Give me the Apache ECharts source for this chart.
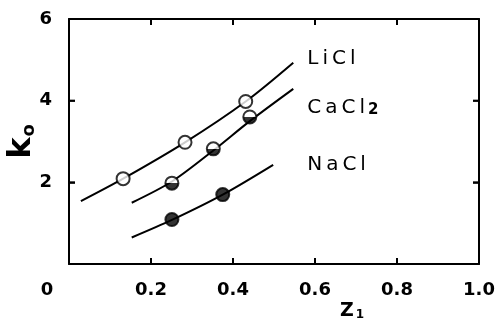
<!DOCTYPE html>
<html>
<head>
<meta charset="utf-8">
<script src="https://cdn.jsdelivr.net/npm/echarts@6/dist/echarts.min.js"></script>
<style>
  html, body { margin: 0; padding: 0; background: #fff; }
  #chart { width: 498px; height: 326px; }
</style>
</head>
<body>
<div id="chart"></div>
<script>
// tick labels and inner tick positions
const xTickLabels = ['0', '0.2', '0.4', '0.6', '0.8', '1.0']
const yTickLabels = ['', '2', '4', '6']
const xInnerTicks = [0.2, 0.4, 0.6, 0.8]
const yInnerTicks = [2, 4]

// measured points
const liclX = [0.132, 0.283, 0.431]
const liclY = [2.09, 2.98, 3.98]
const caclX = [0.251, 0.352, 0.441]
const caclY = [1.98, 2.82, 3.6]
const naclX = [0.251, 0.375]
const naclY = [1.09, 1.70]

// fitted curves
const liclCurveX = [0.029, 0.132, 0.283, 0.431, 0.547]
const liclCurveY = [1.54, 2.09, 2.98, 3.98, 4.93]
const caclCurveX = [0.153, 0.251, 0.352, 0.441, 0.547]
const caclCurveY = [1.50, 2.02, 2.78, 3.50, 4.29]
const naclCurveX = [0.153, 0.251, 0.375, 0.498]
const naclCurveY = [0.65, 1.08, 1.70, 2.43]

const zip = (xs, ys) => xs.map((x, i) => [x, ys[i]])

const FONT = 'DejaVu Sans'
const TICK = 6
const chart = echarts.init(document.getElementById('chart'))

const halfFill = new echarts.graphic.LinearGradient(0, 0, 0, 1, [
  { offset: 0, color: '#fff' },
  { offset: 0.5, color: '#fff' },
  { offset: 0.5, color: '#000' },
  { offset: 1, color: '#000' }
])

// spread letters out a bit, like the original lettering
const spaced = (txt) => txt.split('').map(c => '{a|' + c + '}').join('')

const curve = (name, xs, ys, label, distance, offset) => ({
  name,
  type: 'line',
  data: zip(xs, ys),
  smooth: 0.3,
  symbol: 'none',
  lineStyle: { color: '#000', width: 2 },
  endLabel: {
    show: true,
    formatter: label,
    distance,
    offset,
    fontFamily: FONT,
    fontSize: 20,
    color: '#000',
    rich: {
      a: { fontFamily: FONT, fontSize: 20, color: '#000', padding: [0, 2, 0, 2] },
      s: { fontFamily: FONT, fontSize: 15, fontWeight: 'bold', color: '#000', verticalAlign: 'bottom', padding: [0, 0, 0, 1] }
    }
  },
  z: 2
})

const dots = (name, xs, ys, fill) => ({
  name,
  type: 'scatter',
  data: zip(xs, ys),
  symbol: 'circle',
  symbolSize: 13,
  itemStyle: { color: fill, borderColor: '#000', borderWidth: 2 },
  z: 3
})

// inward tick marks on the frame, placed through the axis scales
const innerTicks = (side, vals) => ({
  name: 'ticks-' + side,
  type: 'custom',
  coordinateSystem: 'cartesian2d',
  xAxisIndex: 0,
  yAxisIndex: 0,
  silent: true,
  clip: false,
  encode: { x: 0, y: 1 },
  data: vals.map(v => side === 'bottom' || side === 'top' ? [v, 3] : [0.5, v]),
  renderItem: (params, api) => {
    const xv = api.value(0)
    const yv = api.value(1)
    let p, q
    if (side === 'bottom') { p = api.coord([xv, 0]); q = [p[0], p[1] - TICK] }
    if (side === 'top') { p = api.coord([xv, 6]); q = [p[0], p[1] + TICK] }
    if (side === 'left') { p = api.coord([0, yv]); q = [p[0] + TICK, p[1]] }
    if (side === 'right') { p = api.coord([1, yv]); q = [p[0] - TICK, p[1]] }
    return {
      type: 'line',
      shape: { x1: p[0], y1: p[1], x2: q[0], y2: q[1] },
      style: { stroke: '#000', lineWidth: 2 }
    }
  },
  z: 10
})

const frameLine = { show: true, onZero: false, lineStyle: { color: '#000', width: 2 } }
const frameTick = { show: true, inside: true, length: TICK, lineStyle: { color: '#000', width: 1.5 } }

const option = {
  animation: false,
  backgroundColor: '#fff',
  grid: { left: 69, right: 19, top: 19, bottom: 62, outerBoundsMode: 'none' },
  xAxis: [
    {
      type: 'value',
      min: 0,
      max: 1,
      interval: 0.2,
      name: 'Z{s|1}',
      nameLocation: 'middle',
      nameGap: 37,
      nameMoveOverlap: false,
      nameTextStyle: {
        fontFamily: FONT,
        fontSize: 19,
        fontWeight: 'bold',
        color: '#000',
        padding: [0, 0, 0, 156],
        rich: {
          s: { fontFamily: FONT, fontSize: 12, fontWeight: 'bold', color: '#000', padding: [8, 0, 0, 2] }
        }
      },
      axisLine: frameLine,
      axisTick: frameTick,
      splitLine: { show: false },
      axisLabel: {
        margin: 17,
        fontFamily: FONT,
        fontSize: 18,
        fontWeight: 'bold',
        color: '#000',
        formatter: (v) => {
          const i = Math.round(v / 0.2)
          return i === 0 ? '{z|' + xTickLabels[0] + '}' : xTickLabels[i]
        },
        rich: {
          z: { fontFamily: FONT, fontSize: 18, fontWeight: 'bold', color: '#000', padding: [0, 44, 0, 0] }
        }
      }
    },
    {
      type: 'value',
      position: 'top',
      min: 0,
      max: 1,
      interval: 0.2,
      axisLine: frameLine,
      axisTick: frameTick,
      axisLabel: { show: false },
      splitLine: { show: false }
    }
  ],
  yAxis: [
    {
      type: 'value',
      min: 0,
      max: 6,
      interval: 2,
      name: '{k|k}{o|o}',
      nameLocation: 'middle',
      nameRotate: 90,
      nameGap: 31,
      nameMoveOverlap: false,
      nameTextStyle: {
        rich: {
          k: { fontFamily: FONT, fontSize: 32, fontWeight: 'bold', color: '#000' },
          o: { fontFamily: FONT, fontSize: 18, fontWeight: 'bold', color: '#000', verticalAlign: 'bottom', padding: [0, 0, 0, 1] }
        }
      },
      axisLine: frameLine,
      axisTick: frameTick,
      splitLine: { show: false },
      axisLabel: {
        margin: 17,
        fontFamily: FONT,
        fontSize: 18,
        fontWeight: 'bold',
        color: '#000',
        formatter: (v) => yTickLabels[Math.round(v / 2)]
      }
    },
    {
      type: 'value',
      position: 'right',
      min: 0,
      max: 6,
      interval: 2,
      axisLine: frameLine,
      axisTick: frameTick,
      axisLabel: { show: false },
      splitLine: { show: false }
    }
  ],
  series: [
    curve('LiCl', liclCurveX, liclCurveY, spaced('LiCl'), 12, [0, -4]),
    curve('CaCl2', caclCurveX, caclCurveY, spaced('CaCl') + '{s|2}', 12, [0, 19]),
    curve('NaCl', naclCurveX, naclCurveY, spaced('NaCl'), 32, [0, 0]),
    dots('LiCl pts', liclX, liclY, '#fff'),
    dots('CaCl2 pts', caclX, caclY, halfFill),
    dots('NaCl pts', naclX, naclY, '#000'),
    innerTicks('bottom', xInnerTicks),
    innerTicks('top', xInnerTicks),
    innerTicks('left', yInnerTicks),
    innerTicks('right', yInnerTicks)
  ]
}

chart.setOption(option)
</script>
</body>
</html>
